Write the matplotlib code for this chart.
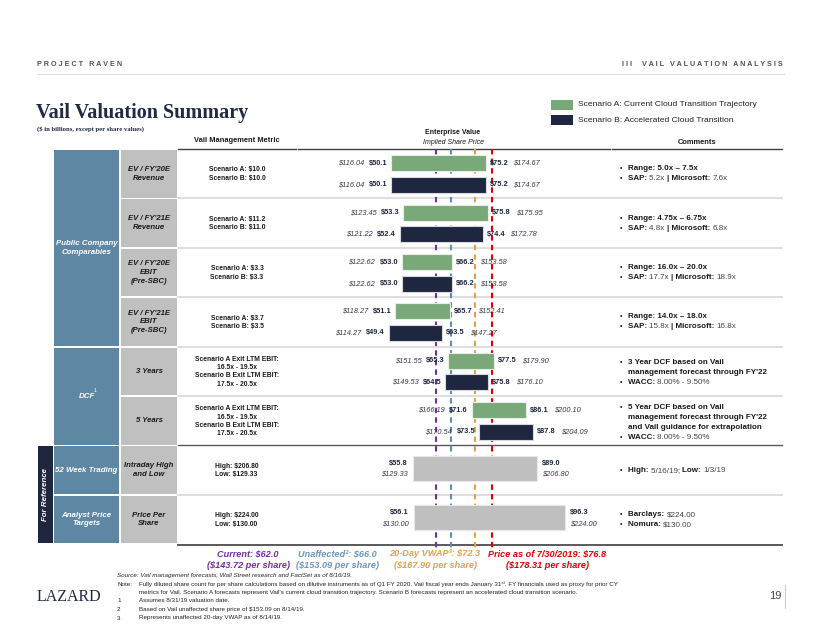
import matplotlib
matplotlib.use("Agg")
import matplotlib.pyplot as plt
from matplotlib.patches import Rectangle

W, H = 822, 635
SANS = ['Liberation Sans', 'DejaVu Sans']
SERIF = ['Liberation Serif', 'DejaVu Serif']
plt.rcParams['font.family'] = SANS

# ---------------- data ----------------
categories = ["Public Company\nComparables", "DCF", "52 Week Trading", "Analyst Price\nTargets"]
category_rows = [(0, 3), (4, 5), (6, 6), (7, 7)]
sub_labels = ["EV / FY'20E\nRevenue", "EV / FY'21E\nRevenue", "EV / FY'20E\nEBIT\n(Pre-SBC)",
              "EV / FY'21E\nEBIT\n(Pre-SBC)", "3 Years", "5 Years",
              "Intraday High\nand Low", "Price Per\nShare"]
metric_texts = ["Scenario A: $10.0\nScenario B: $10.0",
                "Scenario A: $11.2\nScenario B: $11.0",
                "Scenario A: $3.3\nScenario B: $3.3",
                "Scenario A: $3.7\nScenario B: $3.5",
                "Scenario A Exit LTM EBIT:\n16.5x - 19.5x\nScenario B Exit LTM EBIT:\n17.5x - 20.5x",
                "Scenario A Exit LTM EBIT:\n16.5x - 19.5x\nScenario B Exit LTM EBIT:\n17.5x - 20.5x",
                "High: $206.80\nLow: $129.33",
                "High: $224.00\nLow: $130.00"]

ev_low_A = [50.1, 53.3, 53.0, 51.1, 65.3, 71.6]
ev_high_A = [75.2, 75.8, 66.2, 65.7, 77.5, 86.1]
px_low_A = [116.04, 123.45, 122.62, 118.27, 151.55, 166.19]
px_high_A = [174.67, 175.95, 153.58, 152.41, 179.90, 200.10]
ev_low_B = [50.1, 52.4, 53.0, 49.4, 64.5, 73.5]
ev_high_B = [75.2, 74.4, 66.2, 63.5, 75.8, 87.8]
px_low_B = [116.04, 121.22, 122.62, 114.27, 149.53, 170.54]
px_high_B = [174.67, 172.78, 153.58, 147.27, 176.10, 204.09]
ref_ev_low = [55.8, 56.1]
ref_ev_high = [89.0, 96.3]
ref_px_low = [129.33, 130.00]
ref_px_high = [206.80, 224.00]

line_names = ["Current", "Unaffected", "20-Day VWAP", "Price as of 7/30/2019"]
line_marks = ["", "²", "³", ""]
line_ev = [62.0, 66.0, 72.3, 76.8]
line_px = [143.72, 153.09, 167.90, 178.31]
line_colors = ["#7030A0", "#5B8DB5", "#E3A24A", "#E00000"]
label_colors = ["#7030A0", "#6E97BC", "#E3A24A", "#E00000"]

comments = [
    [(True, [("Range: 5.0x – 7.5x", True)]),
     (True, [("SAP: ", True), ("5.2x ", False), ("| Microsoft: ", True), ("7.6x", False)])],
    [(True, [("Range: 4.75x – 6.75x", True)]),
     (True, [("SAP: ", True), ("4.8x ", False), ("| Microsoft: ", True), ("6.8x", False)])],
    [(True, [("Range: 16.0x – 20.0x", True)]),
     (True, [("SAP: ", True), ("17.7x ", False), ("| Microsoft: ", True), ("18.9x", False)])],
    [(True, [("Range: 14.0x – 18.0x", True)]),
     (True, [("SAP: ", True), ("15.8x ", False), ("| Microsoft: ", True), ("16.8x", False)])],
    [(True, [("3 Year DCF based on Vail", True)]),
     (False, [("management forecast through FY'22", True)]),
     (True, [("WACC: ", True), ("8.00% - 9.50%", False)])],
    [(True, [("5 Year DCF based on Vail", True)]),
     (False, [("management forecast through FY'22", True)]),
     (False, [("and Vail guidance for extrapolation", True)]),
     (True, [("WACC: ", True), ("8.00% - 9.50%", False)])],
    [(True, [("High: ", True), ("5/16/19; ", False), ("Low: ", True), ("1/3/19", False)])],
    [(True, [("Barclays: ", True), ("$224.00", False)]),
     (True, [("Nomura: ", True), ("$130.00", False)])],
]

# ---------------- layout constants ----------------
X0, PXU = 203.5, 3.75          # pixel = X0 + PXU * value
ROW_TOP, PITCH, ROW_H = 150.0, 49.4, 47.5
NAVY = "#1E2640"
GREEN = "#79A978"
GREYBAR = "#BFBFBF"
CATBLUE = "#5E87A4"
SUBGREY = "#C0C0C0"
TXT = "#1A1A1A"
LBL = 5.3

fig = plt.figure(figsize=(W / 100, H / 100), dpi=100)
bg = fig.add_axes([0, 0, 1, 1], zorder=1)
bg.set_xlim(0, W); bg.set_ylim(H, 0); bg.axis('off')
ax = fig.add_axes([0, 0, 1, 1], zorder=2)
ax.set_xlim(-X0 / PXU, (W - X0) / PXU); ax.set_ylim(H, 0); ax.axis('off')

def row_top(i):
    return ROW_TOP + i * PITCH

def row_c(i):
    return row_top(i) + ROW_H / 2

# ---------------- header ----------------
bg.text(37, 64, "P R O J E C T   R A V E N", fontsize=5.2, fontweight='bold', color='#505060', va='center')
bg.text(783, 64, "I I I     V A I L   V A L U A T I O N   A N A L Y S I S", fontsize=5.2,
        fontweight='bold', color='#505060', va='center', ha='right')
bg.plot([37, 784], [74, 74], color='#DDDDDD', lw=0.8)
bg.text(36, 113, "Vail Valuation Summary", family=SERIF, fontsize=14.5, fontweight='bold',
        color='#1F2A44', va='center')
bg.text(37, 129, "($ in billions, except per share values)", family=SERIF, fontsize=4.8,
        fontweight='bold', color='#1F2A44', va='center')

# legend
bg.add_patch(Rectangle((551, 100), 22, 9.5, facecolor=GREEN, edgecolor='none'))
bg.add_patch(Rectangle((551, 115), 22, 9.5, facecolor=NAVY, edgecolor='none'))
bg.text(578, 105, "Scenario A: Current Cloud Transition Trajectory", fontsize=6.1, color='#222', va='center')
bg.text(578, 120, "Scenario B: Accelerated Cloud Transition", fontsize=6.1, color='#222', va='center')

# column headers
bg.text(237, 141, "Vail Management Metric", fontsize=5.4, fontweight='bold', color=TXT, ha='center', va='center')
bg.text(453, 133, "Enterprise Value", fontsize=5.0, fontweight='bold', color=TXT, ha='center', va='center')
bg.text(453, 142, "Implied Share Price", fontsize=5.0, style='italic', color=TXT, ha='center', va='center')
bg.text(697, 142, "Comments", fontsize=5.4, fontweight='bold', color=TXT, ha='center', va='center')
for x1, x2 in [(178, 295.5), (297.5, 609.5), (611.5, 782)]:
    bg.plot([x1, x2], [149, 149], color='#404040', lw=1.0)

# ---------------- left table ----------------
for name, (r1, r2) in zip(categories, category_rows):
    y1 = row_top(r1); y2 = row_top(r2) + ROW_H
    bg.add_patch(Rectangle((54, y1), 65, y2 - y1, facecolor=CATBLUE, edgecolor='none'))
    bg.text(86.5, (y1 + y2) / 2, name, fontsize=5.7, fontweight='bold', style='italic',
            color='white', ha='center', va='center', linespacing=1.35)
    if name == "DCF":
        bg.text(93.5, (y1 + y2) / 2 - 5.5, "1", fontsize=3.6, color='white', ha='left', va='center')

y1 = row_top(6); y2 = row_top(7) + ROW_H
bg.add_patch(Rectangle((38, y1), 15, y2 - y1, facecolor=NAVY, edgecolor='none'))
bg.text(45.5, (y1 + y2) / 2, "For Reference", fontsize=5.7, fontweight='bold', style='italic',
        color='white', ha='center', va='center', rotation=90)

for i, lab in enumerate(sub_labels):
    bg.add_patch(Rectangle((121, row_top(i)), 56, ROW_H, facecolor=SUBGREY, edgecolor='none'))
    bg.text(149, row_c(i), lab, fontsize=5.6, fontweight='bold', style='italic', color=TXT,
            ha='center', va='center', linespacing=1.35)
    bg.text(237, row_c(i) + 0.5, metric_texts[i], fontsize=4.9, fontweight='bold', color=TXT,
            ha='center', va='center', linespacing=1.25 if metric_texts[i].count("\n") > 1 else 1.3,
            multialignment='center' if i < 6 else 'left')

# separators
for i in range(1, 8):
    y = row_top(i) - 1
    if i == 6:
        bg.plot([178, 782], [y, y], color='#5A5A5A', lw=1.0)
    else:
        bg.plot([178, 782], [y, y], color='#D4D4D4', lw=1.1)
bg.plot([178, 782], [row_top(7) + ROW_H + 1.5, row_top(7) + ROW_H + 1.5], color='#5A5A5A', lw=1.4)

# ---------------- chart ----------------
ax.vlines(line_ev, 149, 548, colors=line_colors, linestyles=(0, (2.6, 2.0)), lw=1.5, zorder=1)

def lab_left(x, y, ev, px):
    ax.annotate(f"${ev:.1f}", (x, y), xytext=(-4, 0), textcoords='offset pixels', ha='right',
                va='center', fontsize=LBL, fontweight='bold', color=NAVY, zorder=4)
    ax.annotate(f"${px:.2f}", (x, y), xytext=(-27, 0), textcoords='offset pixels', ha='right',
                va='center', fontsize=LBL, style='italic', color='#3A3A4A', zorder=4)

def lab_right(x, y, ev, px):
    ax.annotate(f"${ev:.1f}", (x, y), xytext=(4, 0), textcoords='offset pixels', ha='left',
                va='center', fontsize=LBL, fontweight='bold', color=NAVY, zorder=4)
    ax.annotate(f"${px:.2f}", (x, y), xytext=(28, 0), textcoords='offset pixels', ha='left',
                va='center', fontsize=LBL, style='italic', color='#3A3A4A', zorder=4)

for i in range(6):
    ya = row_c(i) - 10.5
    yb = row_c(i) + 11
    ax.barh(ya, ev_high_A[i] - ev_low_A[i], left=ev_low_A[i], height=16, color=GREEN,
            edgecolor='#E6EEE6', lw=0.8, zorder=2)
    ax.barh(yb, ev_high_B[i] - ev_low_B[i], left=ev_low_B[i], height=16, color=NAVY,
            edgecolor='#D8D8DC', lw=0.8, zorder=2)
    lab_left(ev_low_A[i], ya, ev_low_A[i], px_low_A[i])
    lab_right(ev_high_A[i], ya, ev_high_A[i], px_high_A[i])
    lab_left(ev_low_B[i], yb, ev_low_B[i], px_low_B[i])
    lab_right(ev_high_B[i], yb, ev_high_B[i], px_high_B[i])

for k in range(2):
    i = 6 + k
    y = row_c(i) - 2
    ax.barh(y, ref_ev_high[k] - ref_ev_low[k], left=ref_ev_low[k], height=25, color=GREYBAR,
            edgecolor='#E8E8E8', lw=0.8, zorder=2)
    ax.annotate(f"${ref_ev_low[k]:.1f}", (ref_ev_low[k], y), xytext=(-5, 5), textcoords='offset pixels',
                ha='right', va='center', fontsize=LBL, fontweight='bold', color=NAVY, zorder=4)
    ax.annotate(f"${ref_px_low[k]:.2f}", (ref_ev_low[k], y), xytext=(-5, -6), textcoords='offset pixels',
                ha='right', va='center', fontsize=LBL, style='italic', color='#3A3A4A', zorder=4)
    ax.annotate(f"${ref_ev_high[k]:.1f}", (ref_ev_high[k], y), xytext=(5, 5), textcoords='offset pixels',
                ha='left', va='center', fontsize=LBL, fontweight='bold', color=NAVY, zorder=4)
    ax.annotate(f"${ref_px_high[k]:.2f}", (ref_ev_high[k], y), xytext=(5, -6), textcoords='offset pixels',
                ha='left', va='center', fontsize=LBL, style='italic', color='#3A3A4A', zorder=4)

# reference line labels
label_x = [248, 337, 435, 547]
for n, mk, ev, px, c, lx in zip(line_names, line_marks, line_ev, line_px, label_colors, label_x):
    bg.text(lx, 554, f"{n}{mk}: ${ev:.1f}", fontsize=6.6, fontweight='bold', style='italic',
            color=c, ha='center', va='center')
    bg.text(lx, 565, f"(${px:.2f} per share)", fontsize=6.6, fontweight='bold', style='italic',
            color=c, ha='center', va='center')

# ---------------- comments ----------------
def rich_line(x, y, segments, size=5.8):
    prev = None
    for text, bold in segments:
        kw = dict(fontsize=size, fontweight='bold' if bold else 'normal',
                  color=TXT if bold else '#444444')
        if prev is None:
            prev = bg.text(x, y, text, ha='left', va='center', **kw)
        else:
            prev = bg.annotate(text, xy=(1, 0), xycoords=prev, ha='left', va='bottom', **kw)

for i, lines in enumerate(comments):
    n = len(lines)
    c = row_c(i) + (1.5 if i in (4, 5) else 0)
    for j, (bullet, segs) in enumerate(lines):
        y = c + (j - (n - 1) / 2) * 10
        if bullet:
            bg.text(620, y, "•", fontsize=5.0, color=TXT, ha='left', va='center')
        rich_line(628, y, segs)

# ---------------- footer ----------------
fs = 4.5
bg.text(117, 575.5, "Source: Vail management forecasts, Wall Street research and FactSet as of 8/16/19.",
        fontsize=fs, style='italic', color='#222', va='center')
bg.text(117, 584, "Note:", fontsize=fs, color='#222', va='center')
bg.text(139, 584, "Fully diluted share count for per share calculations based on dilutive instruments as of Q1 FY 2020. "
        "Vail fiscal year ends January 31ˢᵗ. FY financials used as proxy for prior CY",
        fontsize=fs, color='#222', va='center')
bg.text(139, 592.5, "metrics for Vail. Scenario A forecasts represent Vail's current cloud transition trajectory. "
        "Scenario B forecasts represent an accelerated cloud transition scenario.",
        fontsize=fs, color='#222', va='center')
for k, (yy, t) in enumerate([(601, "Assumes 8/31/19 valuation date."),
                             (609.5, "Based on Vail unaffected share price of $153.09 on 8/14/19."),
                             (618, "Represents unaffected 20-day VWAP as of 8/14/19.")]):
    bg.text(117, yy, str(k + 1), fontsize=fs, color='#222', va='center')
    bg.text(139, yy, t, fontsize=fs, color='#222', va='center')

bg.text(37, 597, "LAZARD", family=SERIF, fontsize=11.5, color='#1F2A44', va='center')
bg.text(769, 596, "19", fontsize=8, color='#444', va='center')
bg.plot([785, 785], [585, 608], color='#CCCCCC', lw=0.8)

fig.savefig("out.png", dpi=100)
